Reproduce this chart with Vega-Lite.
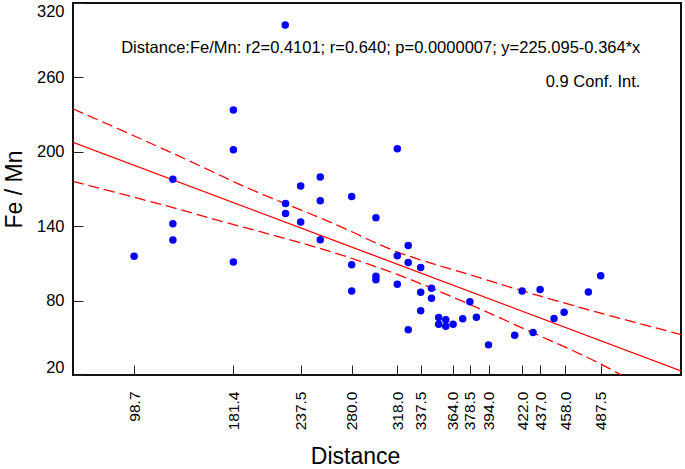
{
  "$schema": "https://vega.github.io/schema/vega-lite/v6.json",
  "width": 608,
  "height": 372,
  "autosize": {"type": "none"},
  "padding": {"left": 73, "top": 3, "right": 4, "bottom": 94},
  "background": "white",
  "config": {
    "view": {"stroke": "#111", "strokeWidth": 2},
    "font": "Liberation Sans",
    "axis": {"grid": false, "domain": false, "labelColor": "#000", "titleColor": "#000", "tickColor": "#222", "tickWidth": 1, "labelFont": "Liberation Sans", "titleFont": "Liberation Sans", "titleFontWeight": "normal"}
  },
  "datasets": {
    "points": [
      {"Distance": 98.7, "FeMn": 115.7}, {"Distance": 131.0, "FeMn": 177.8}, {"Distance": 131.0, "FeMn": 142.0}, {"Distance": 131.0, "FeMn": 128.9},
      {"Distance": 181.4, "FeMn": 233.8}, {"Distance": 181.4, "FeMn": 201.6}, {"Distance": 181.4, "FeMn": 111.2},
      {"Distance": 224.6, "FeMn": 302.3}, {"Distance": 224.9, "FeMn": 158.4}, {"Distance": 224.9, "FeMn": 150.3},
      {"Distance": 237.5, "FeMn": 172.5}, {"Distance": 237.5, "FeMn": 143.4},
      {"Distance": 253.8, "FeMn": 179.7}, {"Distance": 253.8, "FeMn": 160.5}, {"Distance": 253.8, "FeMn": 129.1},
      {"Distance": 280.0, "FeMn": 163.9}, {"Distance": 280.0, "FeMn": 109.0}, {"Distance": 280.0, "FeMn": 87.8},
      {"Distance": 300.2, "FeMn": 146.8}, {"Distance": 300.2, "FeMn": 99.6}, {"Distance": 300.2, "FeMn": 96.9},
      {"Distance": 318.0, "FeMn": 202.4}, {"Distance": 318.0, "FeMn": 116.2}, {"Distance": 318.0, "FeMn": 93.1},
      {"Distance": 327.1, "FeMn": 124.5}, {"Distance": 327.1, "FeMn": 110.8}, {"Distance": 327.1, "FeMn": 56.4},
      {"Distance": 337.5, "FeMn": 106.6}, {"Distance": 337.5, "FeMn": 86.7}, {"Distance": 337.5, "FeMn": 71.9},
      {"Distance": 346.5, "FeMn": 89.9}, {"Distance": 346.5, "FeMn": 81.9},
      {"Distance": 352.5, "FeMn": 66.3}, {"Distance": 352.5, "FeMn": 60.9},
      {"Distance": 358.4, "FeMn": 64.5}, {"Distance": 358.4, "FeMn": 59.3},
      {"Distance": 364.5, "FeMn": 60.9}, {"Distance": 372.5, "FeMn": 65.3}, {"Distance": 378.5, "FeMn": 79.0},
      {"Distance": 383.9, "FeMn": 66.5}, {"Distance": 394.0, "FeMn": 44.3}, {"Distance": 415.8, "FeMn": 52.1},
      {"Distance": 422.0, "FeMn": 87.8}, {"Distance": 431.1, "FeMn": 54.2}, {"Distance": 437.0, "FeMn": 88.9},
      {"Distance": 448.6, "FeMn": 65.5}, {"Distance": 457.0, "FeMn": 70.6}, {"Distance": 477.2, "FeMn": 87.0},
      {"Distance": 487.5, "FeMn": 100.1}
    ],
    "fit": [
      {"Distance": 47.77, "FeMn": 207.7}, {"Distance": 554.39, "FeMn": 23.29}
    ],
    "upper": [
      {"Distance": 47.77, "FeMn": 234.6}, {"Distance": 164.1, "FeMn": 183.9}, {"Distance": 178.25, "FeMn": 177.4},
      {"Distance": 280.7, "FeMn": 135.3}, {"Distance": 303.2, "FeMn": 125.1}, {"Distance": 386.4, "FeMn": 98.5},
      {"Distance": 428.1, "FeMn": 86.2}, {"Distance": 554.4, "FeMn": 52.6}
    ],
    "lower": [
      {"Distance": 47.77, "FeMn": 176.1}, {"Distance": 134.95, "FeMn": 153.9}, {"Distance": 164.1, "FeMn": 146.0},
      {"Distance": 280.7, "FeMn": 113.8}, {"Distance": 303.2, "FeMn": 106.3}, {"Distance": 428.1, "FeMn": 55.3},
      {"Distance": 500.3, "FeMn": 22.3}, {"Distance": 510.0, "FeMn": 17.0}
    ],
    "notes": [
      {"Distance": 520.5, "FeMn": 279.7, "label": "Distance:Fe/Mn: r2=0.4101; r=0.640; p=0.0000007; y=225.095-0.364*x"},
      {"Distance": 520.5, "FeMn": 252.1, "label": "0.9 Conf. Int."}
    ]
  },
  "layer": [
    {
      "data": {"name": "fit"},
      "mark": {"type": "line", "color": "#ff0000", "strokeWidth": 1.3, "clip": true},
      "encoding": {
        "x": {"field": "Distance", "type": "quantitative", "scale": {"domain": [47.77, 554.39], "nice": false, "zero": false},
          "axis": {"values": [98.7, 181.4, 237.5, 280.0, 318.0, 337.5, 364.0, 378.5, 394.0, 422.0, 437.0, 458.0, 487.5], "format": ".1f",
            "labelAngle": 270, "labelFontSize": 15.5, "tickSize": -10, "labelPadding": 26,
            "title": "Distance", "titleFontSize": 23, "titleX": 282, "titleY": 88, "titleAlign": "center", "titleBaseline": "alphabetic"}},
        "y": {"field": "FeMn", "type": "quantitative", "scale": {"domain": [20, 320], "nice": false, "zero": false},
          "axis": {"values": [20, 80, 140, 200, 260, 320], "format": "d", "labelFontSize": 16.5, "tickSize": -10, "labelPadding": 19,
            "labelFlush": true,
            "title": "Fe / Mn", "titleFontSize": 23, "titleX": -52, "titleY": 186, "titleAngle": 270, "titleAlign": "center", "titleBaseline": "alphabetic"}}
      }
    },
    {
      "data": {"name": "upper"},
      "mark": {"type": "line", "color": "#ff0000", "strokeWidth": 1.3, "strokeDash": [11, 5], "interpolate": "monotone", "clip": true},
      "encoding": {
        "x": {"field": "Distance", "type": "quantitative"},
        "y": {"field": "FeMn", "type": "quantitative"}
      }
    },
    {
      "data": {"name": "lower"},
      "mark": {"type": "line", "color": "#ff0000", "strokeWidth": 1.3, "strokeDash": [11, 5], "interpolate": "monotone", "clip": true},
      "encoding": {
        "x": {"field": "Distance", "type": "quantitative"},
        "y": {"field": "FeMn", "type": "quantitative"}
      }
    },
    {
      "data": {"name": "points"},
      "mark": {"type": "circle", "color": "#0000ff", "opacity": 1, "size": 56},
      "encoding": {
        "x": {"field": "Distance", "type": "quantitative"},
        "y": {"field": "FeMn", "type": "quantitative"}
      }
    },
    {
      "data": {"name": "notes"},
      "mark": {"type": "text", "align": "right", "baseline": "alphabetic", "fontSize": 16.5, "font": "Liberation Sans", "color": "#000"},
      "encoding": {
        "x": {"field": "Distance", "type": "quantitative"},
        "y": {"field": "FeMn", "type": "quantitative"},
        "text": {"field": "label"}
      }
    }
  ]
}
